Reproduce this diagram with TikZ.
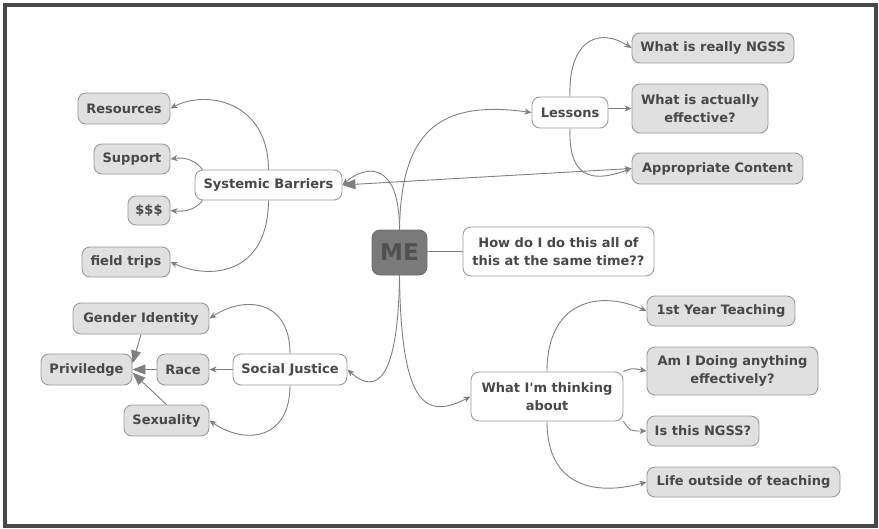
\documentclass[tikz,border=0pt]{standalone}
\usepackage{fontspec}
\setmainfont{DejaVu Sans}
\usetikzlibrary{arrows.meta,backgrounds}

\definecolor{edgegray}{HTML}{808080}
\definecolor{leaffill}{HTML}{E0E0E0}
\definecolor{boxline}{HTML}{9A9A9A}
\definecolor{labeltext}{HTML}{484848}
\definecolor{rootfill}{HTML}{7A7A7A}
\definecolor{rootline}{HTML}{6E6E6E}
\definecolor{roottext}{HTML}{505050}
\definecolor{framegray}{HTML}{484848}

\tikzset{
  box/.style={rounded corners=8pt, draw=boxline, line width=0.9pt, text=labeltext,
    font=\bfseries\fontsize{13}{18}\selectfont, align=center, inner sep=0pt},
  leaf/.style={box, fill=leaffill},
  topic/.style={box, fill=white},
  root/.style={rounded corners=8pt, draw=rootline, line width=0.9pt, fill=rootfill,
    text=roottext, font=\bfseries\fontsize{23}{26}\selectfont, inner sep=0pt},
  link/.style={draw=edgegray, line width=0.9pt,
    -{Stealth[length=7pt,width=6pt,inset=2pt]}},
  plain/.style={draw=edgegray, line width=0.9pt},
  relate/.style={draw=edgegray, line width=0.9pt,
    -{Triangle[length=13pt,width=10pt]}},
}

\begin{document}
\begin{tikzpicture}[x=1pt,y=-1pt]
\useasboundingbox (0,0) rectangle (879,528);
\draw[framegray, line width=3.5pt] (5,5) rectangle (876,526);

% central topic
\node[root, minimum width=55pt, minimum height=45pt] (me) at (399.5,252.5) {ME};

% main branches
\node[topic, minimum width=147pt, minimum height=30pt] (sb) at (268.5,185) {Systemic Barriers};
\node[topic, minimum width=76pt, minimum height=31pt] (les) at (570,112.5) {Lessons};
\node[topic, minimum width=191pt, minimum height=49pt] (how) at (558.5,251.5) {How do I do this all of\\this at the same time??};
\node[topic, minimum width=114pt, minimum height=31pt] (sj) at (290,369.5) {Social Justice};
\node[topic, minimum width=152pt, minimum height=49pt] (think) at (547,396.5) {What I\textquotesingle m thinking\\about};

% systemic barriers
\node[leaf, minimum width=92pt, minimum height=31pt] (res) at (124,108.5) {Resources};
\node[leaf, minimum width=76pt, minimum height=30pt] (sup) at (132,159) {Support};
\node[leaf, minimum width=42pt, minimum height=29pt] (money) at (149,210.5) {\$\$\$};
\node[leaf, minimum width=88pt, minimum height=30pt] (field) at (126,262) {field trips};

% lessons
\node[leaf, minimum width=162pt, minimum height=30pt] (ngss) at (713,48) {What is really NGSS};
\node[leaf, minimum width=136pt, minimum height=49pt] (eff) at (700,108.5) {What is actually\\effective?};
\node[leaf, minimum width=171pt, minimum height=31pt] (app) at (717.5,168.5) {Appropriate Content};

% social justice
\node[leaf, minimum width=136pt, minimum height=31pt] (gender) at (141,318.5) {Gender Identity};
\node[leaf, minimum width=91pt, minimum height=31pt] (priv) at (86.5,369.5) {Priviledge};
\node[leaf, minimum width=52pt, minimum height=31pt] (race) at (183,369.5) {Race};
\node[leaf, minimum width=85pt, minimum height=31pt] (sex) at (166.5,420.5) {Sexuality};

% what I'm thinking about
\node[leaf, minimum width=148pt, minimum height=30pt] (first) at (721,311) {1st Year Teaching};
\node[leaf, minimum width=171pt, minimum height=48pt] (doing) at (732.5,371) {Am I Doing anything\\effectively?};
\node[leaf, minimum width=112pt, minimum height=30pt] (isngss) at (703,431) {Is this NGSS?};
\node[leaf, minimum width=193pt, minimum height=30pt] (life) at (743.5,482) {Life outside of teaching};

\begin{scope}[on background layer]
  % from the centre
  \draw[link] (me.north) .. controls (401,130) and (440,100) .. (les.west);
  \draw[link] (me.north) .. controls (399.5,160) and (365,165) .. (sb.east);
  \draw[plain] (me.east |- how.west) -- (how.west);
  \draw[link] (me.south) .. controls (398,395) and (370,390) .. (sj.east);
  \draw[link] (me.south) .. controls (401,405) and (425,420) .. (think.west);

  % relationship between barriers and content
  \draw[plain, {Triangle[length=13pt,width=10pt]}-{Stealth[length=7pt,width=6pt,inset=2pt]}] (sb.east) -- (app.west);

  % systemic barriers
  \draw[link] (sb.north) .. controls (268,100) and (205,90) .. (res.east);
  \draw[link] ([xshift=8pt]sb.north west) .. controls (195,160) and (185,157) .. (sup.east);
  \draw[link] ([xshift=8pt]sb.south west) .. controls (195,210) and (185,212) .. (money.east);
  \draw[link] (sb.south) .. controls (268,275) and (210,280) .. (field.east);

  % lessons
  \draw[link] (les.north) .. controls (568,45) and (595,25) .. (ngss.west);
  \draw[link] (les.east |- eff.west) -- (eff.west);
  \draw[link] (les.south) .. controls (568,185) and (600,180) .. (app.west);

  % social justice
  \draw[link] (sj.north) .. controls (290,300) and (245,295) .. (gender.east);
  \draw[link] (sj.west) -- (race.east);
  \draw[link] (sj.south) .. controls (290,440) and (245,445) .. (sex.east);
  \draw[relate] (gender.south) -- ([yshift=6pt]priv.east);
  \draw[relate] (race.west) -- (priv.east);
  \draw[relate] (sex.north) -- ([yshift=-3pt]priv.east);

  % what I'm thinking about
  \draw[link] (think.north) .. controls (547,300) and (600,290) .. (first.west);
  \draw[link] (think.north east) .. controls (632,368) .. (doing.west);
  \draw[link] (think.south east) .. controls (630,431) .. (isngss.west);
  \draw[link] (think.south) .. controls (547,490) and (600,495) .. (life.west);
\end{scope}
\end{tikzpicture}
\end{document}
